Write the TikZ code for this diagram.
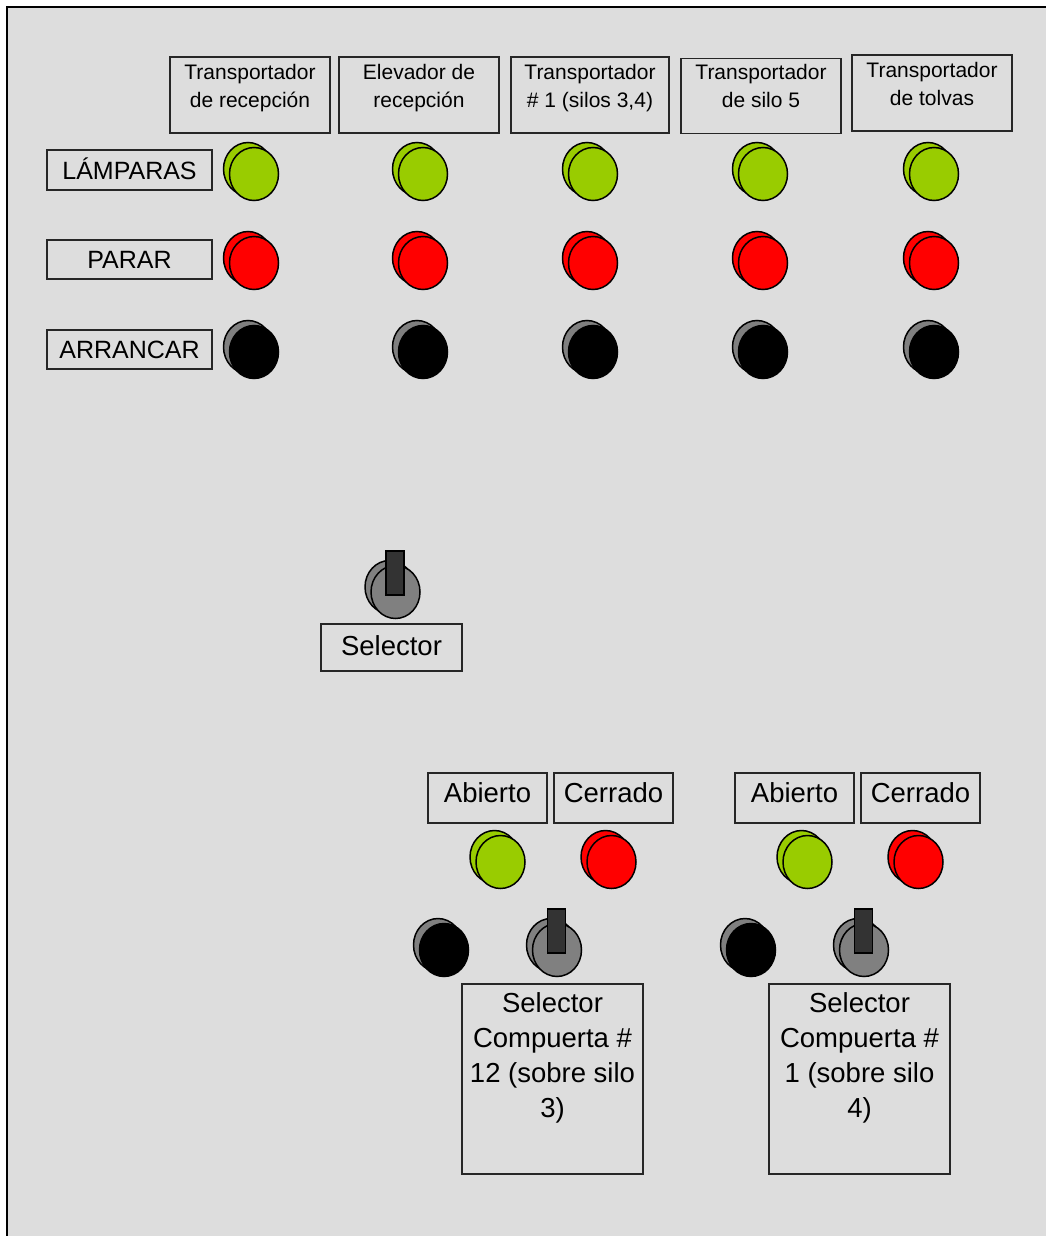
\documentclass[tikz,border=0pt]{standalone}
\usepackage{fontspec}
\setmainfont{Liberation Sans}
\usetikzlibrary{shapes.geometric}
\definecolor{panelgray}{HTML}{DDDDDD}
\definecolor{lampgreen}{HTML}{99CC00}
\definecolor{lampred}{HTML}{FF0000}
\definecolor{knobgray}{HTML}{808080}
\definecolor{handledark}{HTML}{333333}
\tikzset{
  labelbox/.style={draw=black!85, line width=1.4pt, inner sep=0pt},
  capfont/.style={font=\fontsize{21}{28}\selectfont, align=center, inner sep=0pt},
  rowfont/.style={font=\fontsize{25}{30}\selectfont, text height=18pt, text depth=0pt},
  bigfont/.style={font=\fontsize{27.5}{35}\selectfont, align=center, inner sep=0pt},
  tagfont/.style={font=\fontsize{27.5}{35}\selectfont, text height=20pt, text depth=12pt},
  disc/.style={ellipse, draw=black, line width=1.5pt, minimum width=49pt, minimum height=53pt, inner sep=0pt},
  handle/.style={rectangle, draw=black, line width=1.3pt, fill=handledark, minimum width=18pt, minimum height=44pt, inner sep=0pt},
}
% pilot lamp or push button: back disc offset up-left, front disc on top
\newcommand\padlamp[5]{% name, x, y, back colour, front colour
  \node[disc, fill=#4] (#1b) at (#2-6,#3-5) {};
  \node[disc, fill=#5] (#1) at (#2,#3) {};
}
% selector switch: grey discs with the lever standing up from the centre
\newcommand\padknob[3]{% name, x, y
  \padlamp{#1}{#2}{#3}{knobgray}{knobgray}
  \node[handle] (#1h) at (#2-0.5,#3-19) {};
}
\begin{document}
\begin{tikzpicture}[x=1pt,y=-1pt]
\useasboundingbox (0,0) rectangle (1046,1236);
% panel face
\fill[panelgray] (7,7) rectangle (1050,1240);
\draw[line width=2pt] (7,1240) -- (7,7) -- (1050,7);

% column headings
\node[labelbox, minimum width=160pt, minimum height=76pt] (h1) at (250,95) {};
\node[capfont, anchor=north] (h1t) at (250,64) {Transportador\\de recepción};
\node[labelbox, minimum width=160pt, minimum height=76pt] (h2) at (419,95) {};
\node[capfont, anchor=north] (h2t) at (419,64) {Elevador de\\recepción};
\node[labelbox, minimum width=158pt, minimum height=76pt] (h3) at (590,95) {};
\node[capfont, anchor=north] (h3t) at (590,64) {Transportador\\\# 1 (silos 3,4)};
\node[labelbox, minimum width=160pt, minimum height=75pt] (h4) at (761,96) {};
\node[capfont, anchor=north] (h4t) at (761,64) {Transportador\\de silo 5};
\node[labelbox, minimum width=160pt, minimum height=76pt] (h5) at (932,93) {};
\node[capfont, anchor=north] (h5t) at (932,62) {Transportador\\de tolvas};

% row labels
\node[labelbox, rowfont, minimum width=165pt, minimum height=40pt] (rl) at (129.5,170) {LÁMPARAS};
\node[labelbox, rowfont, minimum width=165pt, minimum height=39pt] (rp) at (129.5,259.5) {PARAR};
\node[labelbox, rowfont, minimum width=165pt, minimum height=39pt] (ra) at (129.5,349.5) {ARRANCAR};

% lamps, stop and start buttons per conveyor
\foreach \c/\x in {1/254,2/423,3/593,4/763,5/934}{
  \padlamp{lamp\c}{\x}{174}{lampgreen}{lampgreen}
  \padlamp{stop\c}{\x}{263}{lampred}{lampred}
  \padlamp{start\c}{\x}{352}{knobgray}{black}
}

% main selector
\padknob{selmain}{395.5}{592}
\node[labelbox, tagfont, text depth=5pt, minimum width=141pt, minimum height=47pt] (selmainl) at (391.5,647.5) {Selector};

% gate selectors
\foreach \g/\dx/\num/\silo in {a/0/12/3,b/307/1/4}{
  \node[labelbox, tagfont, minimum width=119pt, minimum height=50pt] (open\g) at (487.5+\dx,798) {Abierto};
  \node[labelbox, tagfont, minimum width=119pt, minimum height=50pt] (shut\g) at (613.5+\dx,798) {Cerrado};
  \padlamp{openlamp\g}{500.5+\dx}{862}{lampgreen}{lampgreen}
  \padlamp{shutlamp\g}{611.5+\dx}{862}{lampred}{lampred}
  \padlamp{push\g}{444+\dx}{950}{knobgray}{black}
  \padknob{gate\g}{557+\dx}{950}
  \node[labelbox, minimum width=181pt, minimum height=190pt] (gatebox\g) at (552.5+\dx,1079) {};
  \node[bigfont, anchor=north] (gatetxt\g) at (552.5+\dx,992) {Selector\\Compuerta \#\\\num{} (sobre silo\\\silo)};
}
\end{tikzpicture}
\end{document}
